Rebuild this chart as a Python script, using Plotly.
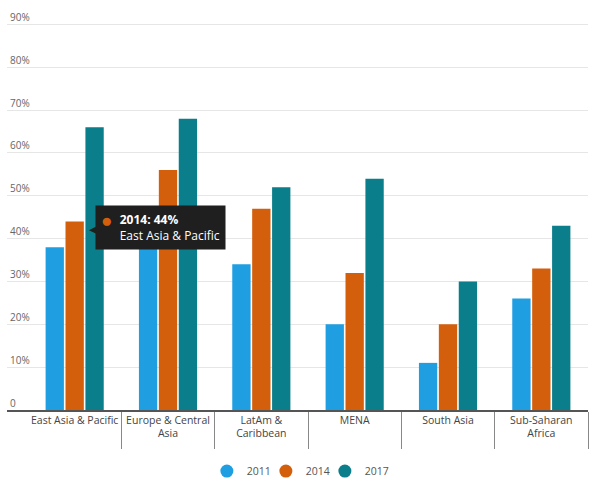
import plotly.graph_objects as go

categories = ["East Asia & Pacific", "Europe & Central<br>Asia", "LatAm &<br>Caribbean",
              "MENA", "South Asia", "Sub-Saharan<br>Africa"]
years = ["2011", "2014", "2017"]
v2011 = [38, 40, 34, 20, 11, 26]
v2014 = [44, 56, 47, 32, 20, 33]
v2017 = [66, 68, 52, 54, 30, 43]
colors = ["#1f9fe2", "#d35f0d", "#0b7e8b"]
ytick_vals = [0, 10, 20, 30, 40, 50, 60, 70, 80, 90]
ytick_text = ["0", "10%", "20%", "30%", "40%", "50%", "60%", "70%", "80%", "90%"]

xs = list(range(len(categories)))
fig = go.Figure()
for name, vals, c in zip(years, [v2011, v2014, v2017], colors):
    fig.add_trace(go.Bar(x=xs, y=vals, name=name, marker=dict(color=c, line=dict(width=0)),
                         showlegend=False))
for name, c in zip(years, colors):
    fig.add_trace(go.Scatter(x=[None], y=[None], mode="markers", name=name,
                             marker=dict(symbol="circle", size=13, color=c)))
# spacer legend entry so the last label is not clipped
fig.add_trace(go.Scatter(x=[None], y=[None], mode="markers", name=" ",
                         marker=dict(symbol="circle", size=13, color="rgba(0,0,0,0)")))

# tooltip
fig.add_annotation(x=0, y=44, xref="x", yref="y", xanchor="left", yanchor="middle",
                   xshift=20, yshift=-6, showarrow=False, align="left",
                   text="&nbsp;&nbsp;&nbsp;&nbsp;&nbsp;&nbsp;<b>2014: 44%</b><br>&nbsp;&nbsp;&nbsp;&nbsp;&nbsp;&nbsp;East Asia & Pacific",
                   font=dict(family="Open Sans", size=12, color="white"),
                   bgcolor="#1f1f1f", borderpad=5)
fig.add_annotation(x=0, y=44, xref="x", yref="y", xanchor="center", yanchor="middle",
                   xshift=32, yshift=1, showarrow=False, text="●",
                   font=dict(size=19, color=colors[1]))
fig.add_annotation(x=0, y=44, xref="x", yref="y", xanchor="left", yanchor="middle",
                   xshift=12, yshift=-7, showarrow=False, text="◀",
                   font=dict(size=11, color="#1f1f1f"))

fig.update_layout(
    width=600, height=486,
    paper_bgcolor="white", plot_bgcolor="white",
    margin=dict(l=7, r=12, t=3, b=76, autoexpand=False),
    barmode="group", bargap=0.36, bargroupgap=0.08,
    font=dict(family="Open Sans", color="#555"),
    legend=dict(orientation="h", x=0.344, xanchor="left", y=-0.15, yanchor="middle",
                font=dict(size=10.5, color="#555"), entrywidth=14, entrywidthmode="pixels",
                itemwidth=30),
    xaxis=dict(type="linear", range=[-0.725, 5.5], tickmode="array",
               tickvals=[x - 0.5 for x in xs] + [5.5], ticktext=[""] * 7,
               ticks="outside", ticklen=37, tickcolor="#888", tickwidth=1, automargin=False,
               showgrid=False, zeroline=False, showline=True, linecolor="#555", linewidth=1.5),
    xaxis2=dict(overlaying="x", matches="x", tickmode="array", tickvals=xs, ticktext=categories,
                ticks="", showgrid=False, zeroline=False, showline=False, side="bottom",
                automargin=False, tickfont=dict(size=10.5, color="#444"), ticklabelstandoff=2),
    yaxis=dict(range=[0, 95], tickmode="array", tickvals=ytick_vals, ticktext=ytick_text,
               ticklabelposition="inside top", tickfont=dict(size=10, color="#666"),
               automargin=False,
               showgrid=True, gridcolor="#e6e6e6", gridwidth=1, zeroline=False,
               showline=False, ticks=""),
)
# invisible trace to activate xaxis2 for category labels
fig.add_trace(go.Scatter(x=xs, y=[None] * len(xs), xaxis="x2", showlegend=False,
                         mode="markers", hoverinfo="skip"))
fig.write_html("out.html", config={"displayModeBar": False},
               post_script="document.body.style.margin='0';")
